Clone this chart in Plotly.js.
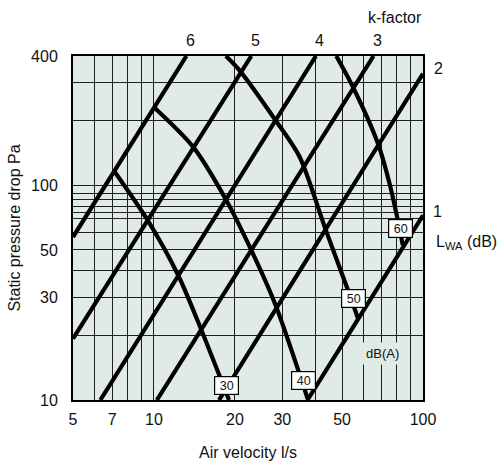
<!DOCTYPE html>
<html>
<head>
<meta charset="utf-8">
<script src="https://cdn.plot.ly/plotly-3.0.1.min.js"></script>
<style>
  html, body { margin: 0; padding: 0; background: #fff; }
  #chart { width: 502px; height: 465px; }
</style>
</head>
<body>
<div id="chart"></div>
<script>
// k-factor lines, given by their end points (air flow l/s, pressure drop Pa)
const kLabels = ['6', '5', '4', '3', '2', '1'];
const kFlow = [[5, 13.2], [5, 23.0], [6.32, 40.0], [10.25, 65.5], [17.45, 100], [37.2, 100]];
const kPressure = [[57.4, 400], [19.3, 400], [10, 400], [10, 400], [10, 331], [10, 72.5]];

// sound power level curves, dB(A)
const dbLabels = ['30', '40', '50', '60'];
const dbFlow = [
  [7.12, 9.47, 12.3, 15.0, 19.0],
  [10.0, 13.98, 18.5, 23.0, 28.3, 37.4],
  [18.5, 20.8, 28.3, 34.8, 43.1, 52.6, 57.3],
  [47.6, 54.9, 68.0, 75.1, 80.6, 84.1]
];
const dbPressure = [
  [116.3, 68.8, 38.1, 21.2, 10],
  [230.9, 150.9, 85.9, 49.9, 27.7, 10],
  [400, 343, 200.8, 135.5, 64.0, 32.5, 24.0],
  [400, 286.9, 156.4, 101.9, 68.8, 52.6]
];

// axis ticks and grid
const xTicks = [5, 7, 10, 20, 30, 50, 100];
const xGrid = [6, 8, 9, 40, 60, 70, 80, 90];
const yTicks = [10, 30, 50, 100, 400];
const yGrid = [20, 40, 60, 70, 75, 80, 86, 92, 200, 300];

const FONT = 'Liberation Sans, Arial, Helvetica, sans-serif';
const GRID = '#1e1e1e';
const BG = '#e1ebe5';

const traces = [];
kFlow.forEach((q, i) => {
  traces.push({
    x: q, y: kPressure[i], mode: 'lines', type: 'scatter', name: 'k ' + kLabels[i],
    line: { color: '#000', width: 4.2 }, hoverinfo: 'skip'
  });
});
dbFlow.forEach((q, i) => {
  traces.push({
    x: q, y: dbPressure[i], mode: 'lines', type: 'scatter', name: dbLabels[i] + ' dB(A)',
    line: { color: '#000', width: 4.2, shape: 'spline', smoothing: 0.8 }, hoverinfo: 'skip'
  });
});

// plot area in pixels: left 73, top 56, width 350, height 344
const px = v => (v - 73) / 350;
const py = v => (400 - v) / 344;

const annotations = [];
const kTop = [[190, '6'], [255, '5'], [319, '4'], [377, '3']];
kTop.forEach(([x, t]) => annotations.push({
  xref: 'paper', yref: 'paper', x: px(x), y: py(41), text: t, showarrow: false,
  xanchor: 'center', yanchor: 'middle', font: { size: 16 }
}));
annotations.push({ xref: 'paper', yref: 'paper', x: px(395), y: py(17), text: 'k-factor',
  showarrow: false, xanchor: 'center', yanchor: 'middle', font: { size: 16 } });
annotations.push({ xref: 'paper', yref: 'paper', x: px(432), y: py(69), text: '2',
  showarrow: false, xanchor: 'left', yanchor: 'middle', font: { size: 16 } });
annotations.push({ xref: 'paper', yref: 'paper', x: px(431), y: py(211), text: '1',
  showarrow: false, xanchor: 'left', yanchor: 'middle', font: { size: 16 } });
annotations.push({ xref: 'paper', yref: 'paper', x: px(434), y: py(242),
  text: 'L<sub>WA</sub> (dB)', showarrow: false, xanchor: 'left', yanchor: 'middle',
  font: { size: 16 } });

// boxed level labels at the curve ends
const boxPos = [[226.7, 385.5], [303, 380], [353.3, 298], [400.8, 228.3]];
dbLabels.forEach((t, i) => annotations.push({
  xref: 'paper', yref: 'paper', x: px(boxPos[i][0]), y: py(boxPos[i][1]), text: t,
  showarrow: false, xanchor: 'center', yanchor: 'middle', font: { size: 12.5 },
  bgcolor: '#fff', bordercolor: '#000', borderwidth: 1.2, borderpad: 1, width: 21, height: 15
}));
annotations.push({ xref: 'paper', yref: 'paper', x: px(382.5), y: py(353), text: 'dB(A)',
  showarrow: false, xanchor: 'center', yanchor: 'middle', font: { size: 13 },
  bgcolor: BG, borderpad: 3 });

const layout = {
  width: 502, height: 465,
  margin: { l: 73, r: 79, t: 56, b: 65, pad: 0 },
  paper_bgcolor: '#fff', plot_bgcolor: BG,
  showlegend: false,
  font: { family: FONT, color: '#111', size: 16 },
  xaxis: {
    type: 'log', range: [Math.log10(5), 2], fixedrange: true,
    tickvals: xTicks, ticktext: xTicks.map(String), ticks: '', ticklabelstandoff: 4,
    showgrid: true, gridcolor: GRID, gridwidth: 1,
    minor: { tickvals: xGrid, showgrid: true, gridcolor: GRID, gridwidth: 1, ticks: '' },
    showline: true, linecolor: '#000', linewidth: 2, mirror: true, zeroline: false,
    tickfont: { size: 16 },
    title: { text: 'Air velocity l/s', font: { size: 16 }, standoff: 20 }
  },
  yaxis: {
    type: 'log', range: [1, Math.log10(400)], fixedrange: true,
    tickvals: yTicks, ticktext: yTicks.map(String), ticks: '', ticklabelstandoff: 10,
    showgrid: true, gridcolor: GRID, gridwidth: 1,
    minor: { tickvals: yGrid, showgrid: true, gridcolor: GRID, gridwidth: 1, ticks: '' },
    showline: true, linecolor: '#000', linewidth: 2, mirror: true, zeroline: false,
    tickfont: { size: 16 },
    title: { text: 'Static pressure drop Pa', font: { size: 16 }, standoff: 6 }
  },
  annotations: annotations
};

Plotly.newPlot('chart', traces, layout, { staticPlot: true, displayModeBar: false });
</script>
</body>
</html>
